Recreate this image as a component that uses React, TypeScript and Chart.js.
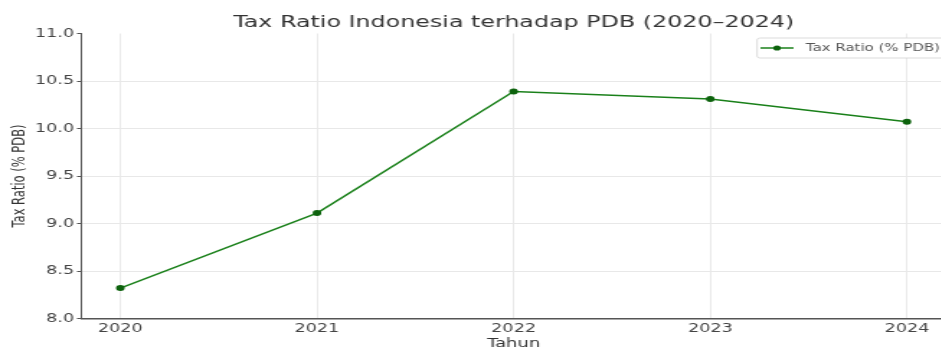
import React, { useEffect, useRef } from 'react';
import { Chart, registerables } from 'chart.js';

Chart.register(...registerables);

// ---- data ----
const years = [2020, 2021, 2022, 2023, 2024];
const taxRatio = [8.32, 9.11, 10.39, 10.31, 10.07];
const yTicks = [8.0, 8.5, 9.0, 9.5, 10.0, 10.5, 11.0];
const titleText = 'Tax Ratio Indonesia terhadap PDB (2020–2024)';
const seriesLabel = 'Tax Ratio (% PDB)';
const xTitle = 'Tahun';
const yTitle = 'Tax Ratio (% PDB)';

// ---- style ----
const FONT = 'DejaVu Sans';
const lineColor = '#1a801a';
const pointColor = '#0d620d';
const BUF_W = 661; // drawing buffer width
const CSS_W = 952; // displayed width (horizontal stretch like the reference)
const H = 360;

// Legend drawn inside the plot area (upper right), matplotlib style
const innerLegend = {
  id: 'innerLegend',
  afterDatasetsDraw(chart: any) {
    const ctx = chart.ctx;
    const area = chart.chartArea;
    const ds = chart.data.datasets[0];
    const top = area.top + 4.5;
    const bottom = top + 20;
    const left = 525.7;
    const right = area.right + 3;
    const cy = (top + bottom) / 2;
    ctx.save();
    ctx.beginPath();
    if ((ctx as any).roundRect) (ctx as any).roundRect(left, top, right - left, bottom - top, 2);
    else ctx.rect(left, top, right - left, bottom - top);
    ctx.fillStyle = 'rgba(255,255,255,0.95)';
    ctx.fill();
    ctx.lineWidth = 0.8;
    ctx.strokeStyle = '#d2d2d2';
    ctx.stroke();
    // line + marker sample
    const x0 = left + 2.3;
    const x1 = x0 + 23;
    ctx.strokeStyle = ds.borderColor;
    ctx.lineWidth = 1.5;
    ctx.beginPath();
    ctx.moveTo(x0, cy);
    ctx.lineTo(x1, cy);
    ctx.stroke();
    ctx.fillStyle = ds.pointBackgroundColor;
    ctx.beginPath();
    ctx.arc((x0 + x1) / 2, cy, 2.6, 0, Math.PI * 2);
    ctx.fill();
    // text
    ctx.fillStyle = '#555555';
    ctx.font = `10.4px "${FONT}"`;
    ctx.textAlign = 'left';
    ctx.textBaseline = 'middle';
    ctx.fillText(ds.label, x1 + 8.5, cy + 0.5);
    ctx.restore();
  },
};

export default function App() {
  const ref = useRef<HTMLCanvasElement>(null);

  useEffect(() => {
    const canvas = ref.current;
    if (!canvas) return;

    Chart.defaults.font.family = FONT;

    const chart = new Chart(canvas, {
      type: 'line',
      data: {
        datasets: [
          {
            label: seriesLabel,
            data: years.map((y, i) => ({ x: y, y: taxRatio[i] })),
            borderColor: lineColor,
            backgroundColor: pointColor,
            borderWidth: 1.5,
            pointRadius: 3,
            pointBackgroundColor: pointColor,
            pointBorderColor: pointColor,
            pointBorderWidth: 0,
            tension: 0,
          },
        ],
      },
      options: {
        responsive: false,
        animation: false,
        devicePixelRatio: 1,
        layout: { padding: 0 },
        plugins: {
          title: {
            display: true,
            text: titleText,
            fullSize: false,
            color: '#333333',
            font: { family: FONT, size: 16.5, weight: 'normal' },
            padding: { top: 12.6, bottom: 1.1 },
          },
          legend: { display: false },
          tooltip: { enabled: false },
        },
        scales: {
          x: {
            type: 'linear',
            min: 2019.8,
            max: 2024.2,
            afterBuildTicks: (scale: any) => {
              scale.ticks = years.map((v) => ({ value: v }));
            },
            afterFit: (scale: any) => {
              scale.height = H - 318.5;
            },
            ticks: {
              color: '#444444',
              font: { family: FONT, size: 12.2 },
              padding: 2.7,
              maxRotation: 0,
              callback: (v: any) => String(v),
            },
            grid: {
              color: '#e0e0e0',
              lineWidth: 0.7,
              drawTicks: false,
            },
            border: { display: true, color: '#555555', width: 1.5 },
            title: {
              display: true,
              text: xTitle,
              color: '#333333',
              font: { family: FONT, size: 12.5 },
              padding: { top: 0, bottom: 9 },
            },
          },
          y: {
            type: 'linear',
            min: 8,
            max: 11,
            afterBuildTicks: (scale: any) => {
              scale.ticks = yTicks.map((v) => ({ value: v }));
            },
            afterFit: (scale: any) => {
              scale.width = 56.25;
            },
            ticks: {
              color: '#444444',
              font: { family: FONT, size: 12.2 },
              padding: 2,
              callback: (v: any) => Number(v).toFixed(1),
            },
            grid: {
              color: (ctx: any) =>
                ctx.tick && ctx.tick.value === 11 ? 'rgba(0,0,0,0)' : '#e8e8e8',
              lineWidth: 1,
              drawTicks: true,
              tickLength: 2.8,
              tickColor: '#555555',
              tickWidth: 1,
            },
            border: { display: true, color: '#555555', width: 1 },
            title: {
              display: true,
              text: yTitle,
              color: '#333333',
              font: { family: FONT, size: 11.5 },
              padding: { top: 7, bottom: 0 },
            },
          },
        },
      },
      plugins: [innerLegend],
    } as any);

    return () => chart.destroy();
  }, []);

  return (
    <div
      style={{
        position: 'fixed',
        left: 0,
        top: 0,
        width: 941,
        height: 347,
        overflow: 'hidden',
        background: '#ffffff',
      }}
    >
      <canvas
        ref={ref}
        width={BUF_W}
        height={H}
        style={{ width: `${CSS_W}px`, height: `${H}px`, display: 'block' }}
      />
    </div>
  );
}
